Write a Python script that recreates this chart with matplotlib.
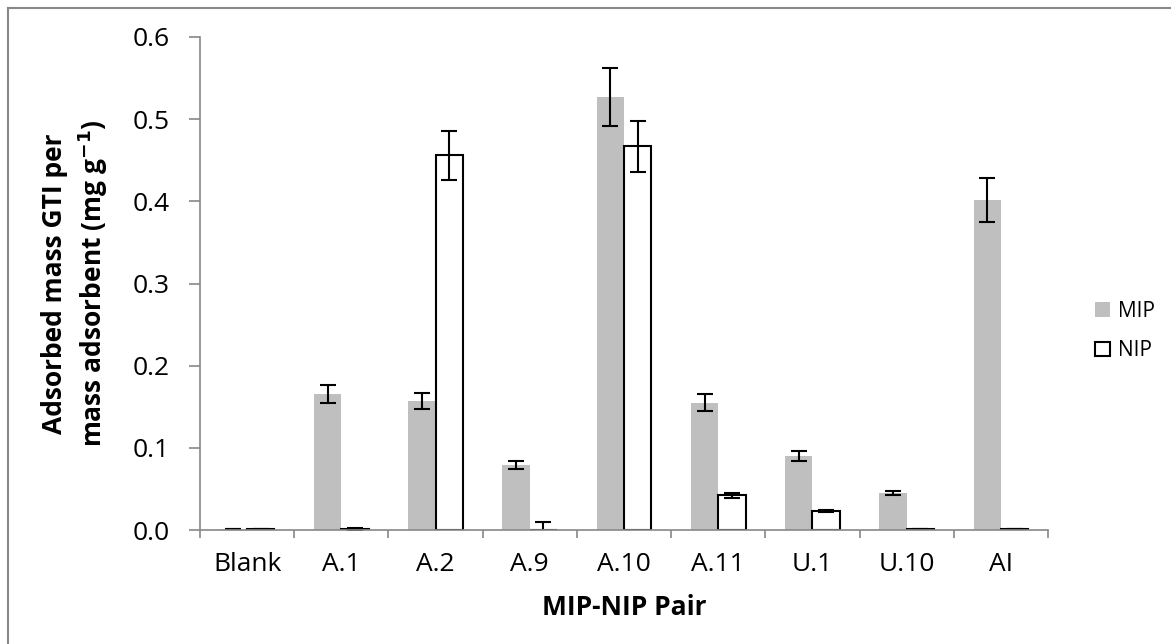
import matplotlib
matplotlib.use("Agg")
from matplotlib import pyplot as plt
from matplotlib.patches import Patch
import numpy as np

# categories along the x axis
pairs = ["Blank", "A.1", "A.2", "A.9", "A.10", "A.11", "U.1", "U.10", "AI"]

# adsorbed mass per mass adsorbent (mg g-1)
mip = [0.0008, 0.165, 0.157, 0.079, 0.527, 0.155, 0.090, 0.045, 0.402]
mip_err = [0.0, 0.011, 0.010, 0.005, 0.035, 0.010, 0.006, 0.003, 0.027]
nip = [0.0008, 0.001, 0.456, 0.0005, 0.467, 0.042, 0.023, 0.001, 0.0008]
nip_err = [0.0, 0.002, 0.030, 0.009, 0.031, 0.003, 0.001, 0.0, 0.0]

plt.rcParams['font.family'] = ['Open Sans', 'DejaVu Sans']

fig = plt.figure(figsize=(11.71, 6.44), dpi=100)
ax = fig.add_axes([200/1171, 1 - 530/644, 848/1171, 493/644])

x = np.arange(len(pairs))
w = 0.29
ekw = dict(ecolor='black', elinewidth=1.5, capsize=6, capthick=1.5)

ax.bar(x - w/2, mip, w, color='#BFBFBF', edgecolor='none',
       yerr=mip_err, error_kw=ekw, label='MIP')
ax.bar(x + w/2, nip, w, color='white', edgecolor='black', linewidth=1.5,
       yerr=nip_err, error_kw=ekw, label='NIP')

ax.set_xlim(-0.5, len(pairs) - 0.5)
ax.set_ylim(0, 0.6)
ax.set_yticks(np.arange(0, 0.61, 0.1))
ax.set_yticklabels(["%.1f" % v for v in np.arange(0, 0.61, 0.1)], fontsize=19)

ax.set_xticks(x)
ax.set_xticklabels(pairs, fontsize=19)
ax.set_xticks(np.arange(-0.5, len(pairs)), minor=True)
ax.tick_params(axis='x', which='major', length=0, pad=16)
ax.tick_params(axis='x', which='minor', length=6, color='#888888', width=1.2)
ax.tick_params(axis='y', length=8, color='#888888', width=1.2, pad=14)

for s in ['top', 'right']:
    ax.spines[s].set_visible(False)
for s in ['left', 'bottom']:
    ax.spines[s].set_color('#888888')
    ax.spines[s].set_linewidth(1.2)

ax.set_xlabel("MIP-NIP Pair", fontsize=19, fontweight='bold')
ax.xaxis.set_label_coords(0.5, -0.13)
ax.set_ylabel("Adsorbed mass GTI per\nmass adsorbent (mg g$^{\\mathbf{-1}}$)",
              fontsize=19, fontweight='bold', linespacing=1.3)
ax.yaxis.set_label_coords(-0.106, 0.5)

handles = [Patch(facecolor='#BFBFBF', edgecolor='none'),
           Patch(facecolor='white', edgecolor='black', linewidth=1.5)]
fig.legend(handles, ['MIP', 'NIP'], loc='center left',
           bbox_to_anchor=(1095/1171, 1 - 331/644), frameon=False,
           fontsize=15, handlelength=0.7, handleheight=0.7,
           handletextpad=0.4, labelspacing=0.9, borderpad=0, borderaxespad=0)

# outer chart frame
fig.add_artist(plt.Line2D([8/1171, 8/1171], [0, 1 - 8/644], color='#888888', lw=1.5,
                          transform=fig.transFigure))
fig.add_artist(plt.Line2D([8/1171, 1], [1 - 8/644, 1 - 8/644], color='#888888', lw=1.5,
                          transform=fig.transFigure))

fig.savefig("out.png", dpi=100)
